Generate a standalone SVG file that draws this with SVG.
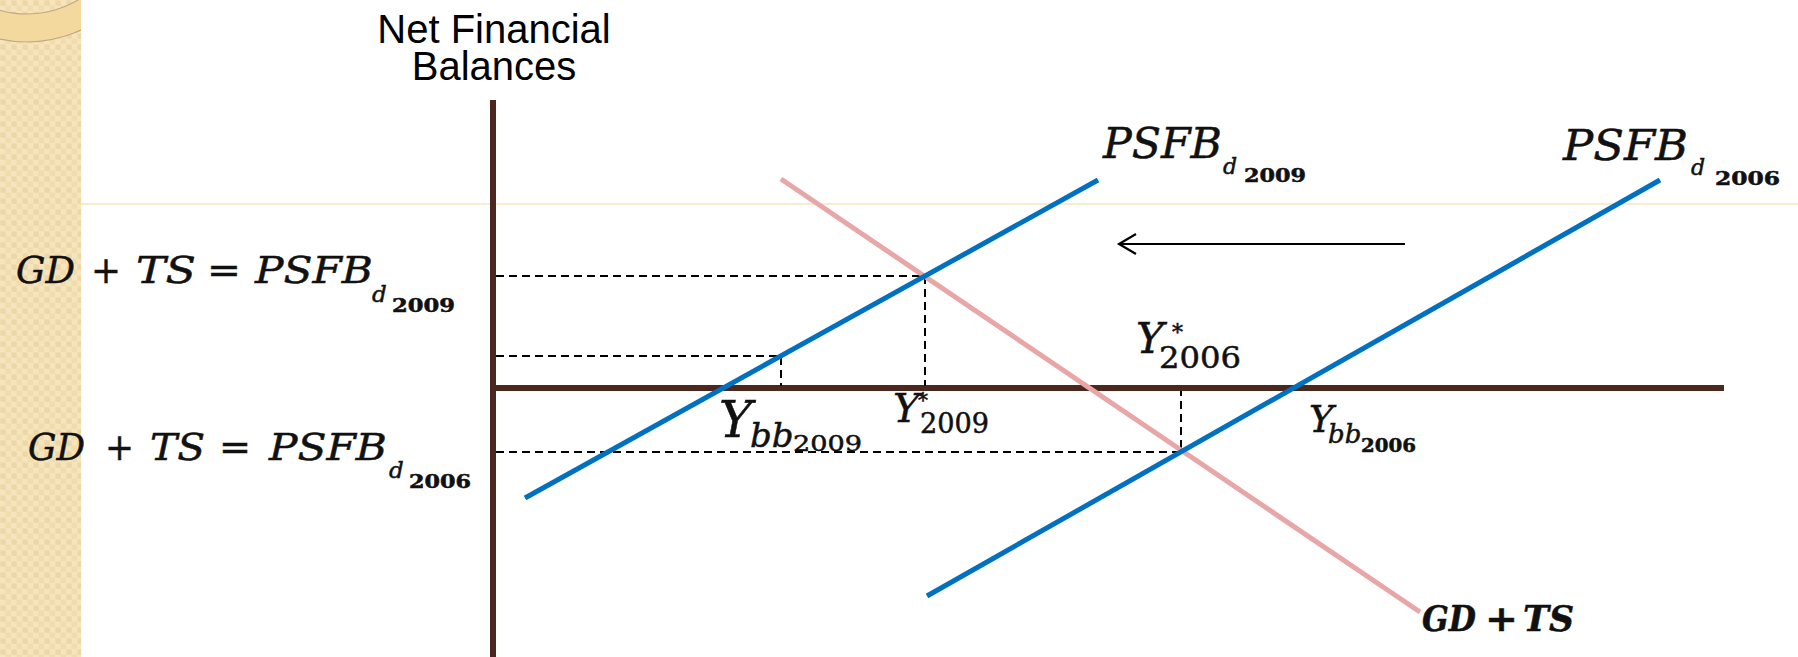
<svg xmlns="http://www.w3.org/2000/svg" width="1798" height="657" viewBox="0 0 1798 657">
<defs>
<pattern id="chk" width="11" height="11" patternUnits="userSpaceOnUse">
<rect width="11" height="11" fill="#F6E4BC"/>
<rect x="0" y="0" width="5.5" height="5.5" fill="#F1DCAE"/>
<rect x="5.5" y="5.5" width="5.5" height="5.5" fill="#F1DCAE"/>
<rect x="2" y="2" width="3" height="3" fill="none" stroke="#E8D0A0" stroke-width="0.8"/>
</pattern>
<clipPath id="sbclip"><rect x="0" y="0" width="81" height="657"/></clipPath>
</defs>
<style>
.ax{stroke:#4B271E;stroke-width:6;fill:none}
.blue{stroke:#0070C0;stroke-width:5;fill:none}
.pink{stroke:#E8A6A6;stroke-width:5;fill:none}
.dash{stroke:#000;stroke-width:2;stroke-dasharray:8 5;fill:none}
.arr{stroke:#000;stroke-width:2.2;fill:none}
.m{font-family:"DejaVu Serif","Liberation Serif",serif;font-style:italic;fill:#111;stroke:#111;stroke-width:0.5}
.u{font-family:"DejaVu Serif","Liberation Serif",serif;fill:#111;stroke:#111;stroke-width:0.5}
.sans{font-family:"Liberation Sans",Arial,sans-serif;fill:#000;font-size:40px;text-anchor:middle}
</style>
<rect width="1798" height="657" fill="#fff"/>
<g id="sidebar">
<rect x="0" y="0" width="81" height="657" fill="url(#chk)"/>
<path d="M-100.5,-85.5 a127.5,127.5 0 0 0 255,0 a127.5,127.5 0 0 0 -255,0 Z M-72.5,-85.5 a99.5,99.5 0 0 1 199,0 a99.5,99.5 0 0 1 -199,0 Z" fill="#F3D99E" fill-rule="evenodd" stroke="#BFAA85" stroke-width="1.2" clip-path="url(#sbclip)"/>
</g>
<line x1="81" y1="204" x2="1798" y2="204" stroke="#EFD9A4" stroke-width="1"/>
<g id="axes">
<line class="ax" x1="493" y1="100" x2="493" y2="657"/>
<line class="ax" x1="490" y1="388" x2="1724" y2="388"/>
</g>
<g id="axis-title">
<text class="sans" x="494" y="43">Net Financial</text>
<text class="sans" x="494" y="80">Balances</text>
</g>
<g id="connectors">
<path class="dash" d="M496,276 H925 V386"/>
<path class="dash" d="M496,356 H781 V386"/>
<path class="dash" d="M496,452 H1181 V391"/>
<line class="pink" x1="781" y1="179" x2="1420" y2="612"/>
<line class="blue" x1="525" y1="498" x2="1098" y2="180"/>
<line class="blue" x1="927" y1="596" x2="1660" y2="180"/>
<g id="shift-arrow">
<line class="arr" x1="1119" y1="244" x2="1405" y2="244"/>
<path class="arr" d="M1136,234 L1119,244 L1136,254"/>
</g>
</g>
<g id="label-gdts-2009">
<text class="m" x="16" y="283" font-size="38" textLength="59" lengthAdjust="spacingAndGlyphs">GD</text>
<text class="u" x="91" y="283" font-size="38" textLength="30" lengthAdjust="spacingAndGlyphs">+</text>
<text class="m" x="136" y="283" font-size="38" textLength="60" lengthAdjust="spacingAndGlyphs">TS</text>
<text class="u" x="207" y="283" font-size="38" textLength="34" lengthAdjust="spacingAndGlyphs">=</text>
<text class="m" x="255" y="283" font-size="38" textLength="118" lengthAdjust="spacingAndGlyphs">PSFB</text>
<text class="m" x="372" y="302" font-size="23">d</text>
<text class="u" x="392" y="312" font-size="18" font-weight="bold" textLength="63" lengthAdjust="spacingAndGlyphs">2009</text>
</g>
<g id="label-gdts-2006">
<text class="m" x="28" y="460" font-size="38" textLength="57" lengthAdjust="spacingAndGlyphs">GD</text>
<text class="u" x="105" y="460" font-size="38" textLength="29" lengthAdjust="spacingAndGlyphs">+</text>
<text class="m" x="150" y="460" font-size="38" textLength="55" lengthAdjust="spacingAndGlyphs">TS</text>
<text class="u" x="219" y="460" font-size="38" textLength="32" lengthAdjust="spacingAndGlyphs">=</text>
<text class="m" x="269" y="460" font-size="38" textLength="118" lengthAdjust="spacingAndGlyphs">PSFB</text>
<text class="m" x="389" y="478" font-size="23">d</text>
<text class="u" x="409" y="488" font-size="18" font-weight="bold" textLength="62" lengthAdjust="spacingAndGlyphs">2006</text>
</g>
<g id="label-psfb-2009">
<text class="m" x="1103" y="158" font-size="42" textLength="119" lengthAdjust="spacingAndGlyphs">PSFB</text>
<text class="m" x="1223" y="174" font-size="22">d</text>
<text class="u" x="1244" y="182" font-size="18" font-weight="bold" textLength="62" lengthAdjust="spacingAndGlyphs">2009</text>
</g>
<g id="label-psfb-2006">
<text class="m" x="1563" y="160" font-size="42" textLength="125" lengthAdjust="spacingAndGlyphs">PSFB</text>
<text class="m" x="1691" y="175" font-size="22">d</text>
<text class="u" x="1715" y="185" font-size="18" font-weight="bold" textLength="65" lengthAdjust="spacingAndGlyphs">2006</text>
</g>
<g id="label-ystar-2006">
<text class="m" x="1136" y="353" font-size="42">Y</text>
<text class="u" x="1172" y="340" font-size="22">*</text>
<text class="u" x="1159" y="368" font-size="29" textLength="82" lengthAdjust="spacingAndGlyphs">2006</text>
</g>
<g id="label-ystar-2009">
<text class="m" x="893" y="422" font-size="40">Y</text>
<text class="u" x="918" y="407" font-size="20">*</text>
<text class="u" x="920" y="433" font-size="27" textLength="69" lengthAdjust="spacingAndGlyphs">2009</text>
</g>
<g id="label-ybb-2009">
<text class="m" x="719" y="437" font-size="50">Y</text>
<text class="m" x="750" y="447" font-size="34">bb</text>
<text class="u" x="793" y="451" font-size="22" textLength="69" lengthAdjust="spacingAndGlyphs">2009</text>
</g>
<g id="label-ybb-2006">
<text class="m" x="1309" y="432" font-size="37">Y</text>
<text class="m" x="1328" y="443" font-size="26">bb</text>
<text class="u" x="1361" y="452" font-size="18" font-weight="bold" textLength="55" lengthAdjust="spacingAndGlyphs">2006</text>
</g>
<g id="label-gdts">
<text class="m" x="1422" y="631" font-size="36" font-weight="bold" textLength="54" lengthAdjust="spacingAndGlyphs">GD</text>
<text class="u" x="1485" y="631" font-size="36" font-weight="bold" textLength="33" lengthAdjust="spacingAndGlyphs">+</text>
<text class="m" x="1523" y="631" font-size="36" font-weight="bold" textLength="51" lengthAdjust="spacingAndGlyphs">TS</text>
</g>
</svg>
